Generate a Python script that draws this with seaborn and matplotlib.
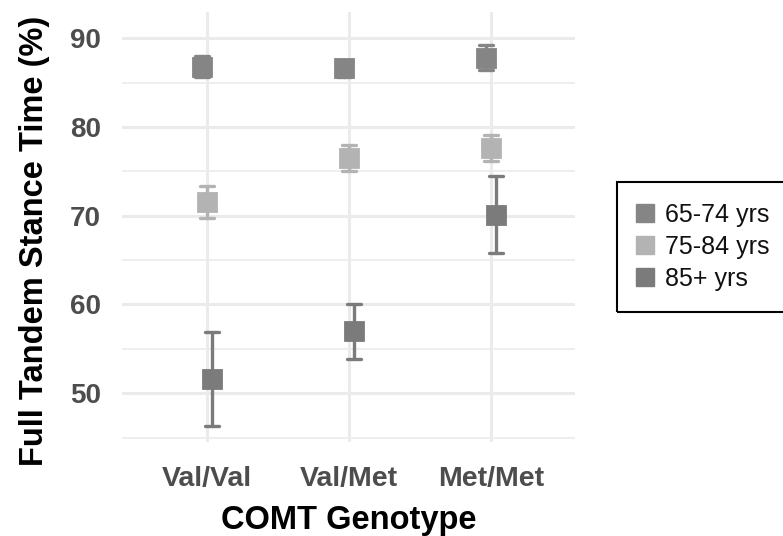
import matplotlib
matplotlib.use("Agg")
import matplotlib.pyplot as plt
import pandas as pd
import seaborn as sns
from matplotlib.lines import Line2D
from matplotlib.patches import Rectangle
from matplotlib.ticker import MultipleLocator

# Data (mean and half-width of error bar)
genotypes = ['Val/Val', 'Val/Met', 'Met/Met']
age_groups = ['65-74 yrs', '75-84 yrs', '85+ yrs']
mean_65_74 = [86.8, 86.6, 87.8]
err_65_74 = [1.2, 1.0, 1.4]
mean_75_84 = [71.5, 76.5, 77.6]
err_75_84 = [1.8, 1.5, 1.45]
mean_85 = [51.6, 57.0, 70.1]
err_85 = [5.25, 3.1, 4.35]
colors = ['#858585', '#b3b3b3', '#7b7b7b']

# long-form table: low / mean / high per group so seaborn can draw the bars
rows = []
for grp, means, errs in zip(age_groups, [mean_65_74, mean_75_84, mean_85],
                            [err_65_74, err_75_84, err_85]):
    for g, m, e in zip(genotypes, means, errs):
        for v in (m - e, m, m + e):
            rows.append({'genotype': g, 'age': grp, 'value': v})
df = pd.DataFrame(rows)

sns.set_style('white')
plt.rcParams['font.family'] = ['Liberation Sans', 'DejaVu Sans']

fig = plt.figure(figsize=(7.83, 5.36), dpi=100)
ax = fig.add_axes([0.1558, 0.1754, 0.5785, 0.8022])

sns.pointplot(data=df, x='genotype', y='value', hue='age', order=genotypes,
              hue_order=age_groups, palette=colors, estimator='mean',
              errorbar=lambda x: (x.min(), x.max()), dodge=0.07,
              markers='s', linestyles='none', markersize=12.5,
              capsize=0.1, err_kws={'linewidth': 2.4}, legend=False, ax=ax)

ax.set_ylim(44.5, 92.96)
ax.set_xlim(-0.6, 2.59)
ax.yaxis.set_major_locator(MultipleLocator(10))
ax.yaxis.set_minor_locator(MultipleLocator(5))
ax.grid(True, which='major', color='#ebebeb', linewidth=2.2)
ax.grid(True, which='minor', axis='y', color='#ebebeb', linewidth=1.2)
ax.set_axisbelow(True)
for s in ax.spines.values():
    s.set_visible(False)
ax.tick_params(axis='x', length=0, pad=17, labelsize=20.5, labelcolor='#4d4d4d')
ax.tick_params(axis='y', length=0, pad=15, labelsize=20, labelcolor='#4d4d4d')
for lab in ax.get_xticklabels() + ax.get_yticklabels():
    lab.set_fontweight('bold')
ax.set_xlabel('COMT Genotype', fontsize=23.5, fontweight='bold', color='black', labelpad=10)
ax.set_ylabel('Full Tandem Stance Time (%)', fontsize=23.5, fontweight='bold', color='black')
ax.yaxis.set_label_coords(-0.16, 0.467)

# legend box
fig.patches.append(Rectangle((617 / 783, (536 - 312) / 536), 0.3, 130 / 536,
                             transform=fig.transFigure, fill=False,
                             edgecolor='black', linewidth=1.5))
handles = [Line2D([], [], marker='s', linestyle='none', markersize=13,
                  markerfacecolor=c, markeredgecolor=c) for c in colors]
fig.legend(handles, age_groups, loc='center left',
           bbox_to_anchor=(610 / 783, (536 - 247) / 536), frameon=False,
           fontsize=18, handletextpad=0.3, labelspacing=0.32,
           handlelength=1.0, labelcolor='#111111')

fig.savefig('out.png', dpi=100)
